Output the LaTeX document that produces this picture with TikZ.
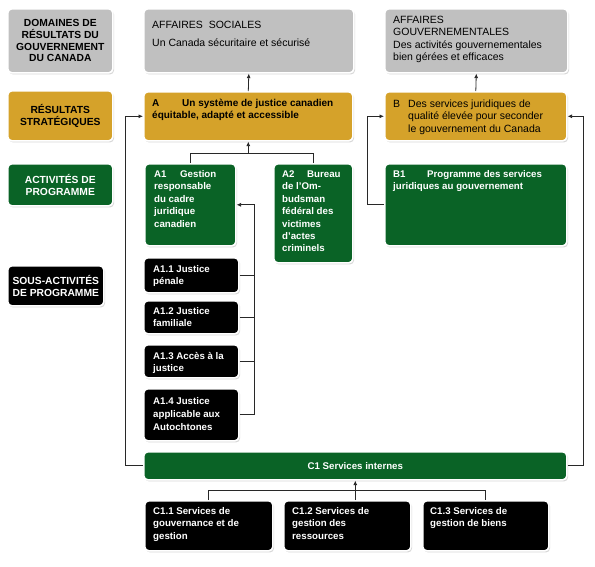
\documentclass[tikz,border=0pt]{standalone}
\usepackage{fontspec}
\setmainfont{Liberation Sans}
\usetikzlibrary{shadows,arrows.meta,calc}
\definecolor{boxgray}{RGB}{192,192,192}
\definecolor{boxgold}{RGB}{213,162,42}
\definecolor{boxgreen}{RGB}{10,99,38}
\definecolor{linegray}{RGB}{40,40,40}
\newcommand\mytl[1]{\begin{tabular}[t]{@{}l@{}}#1\end{tabular}}
\begin{document}
\begin{tikzpicture}[x=1pt,y=-1pt,
  box/.style={rounded corners=4pt, draw=white, line width=1.6pt,
    drop shadow={shadow xshift=1.2pt,shadow yshift=-1.6pt,fill=black!30},
    anchor=north west, inner sep=0pt, align=center},
  lbl/.style={font=\bfseries\fontsize{10.3}{11.7}\selectfont},
  gtxt/.style={font=\fontsize{10.5}{12.2}\selectfont, anchor=base west, inner sep=0pt},
  btxt/.style={font=\bfseries\fontsize{10}{12.2}\selectfont, anchor=base west, inner sep=0pt},
  wtxt/.style={font=\bfseries\fontsize{9.7}{12.4}\selectfont, text=white, anchor=base west, inner sep=0pt},
  conn/.style={draw=linegray, line width=0.8pt},
  arr/.style={conn, -{Latex[length=4.5pt,width=4pt]}}
]
\path[fill=white] (0,0) rectangle (595,566);
\useasboundingbox (0,0) rectangle (595,566);

% left column
\node[box, fill=boxgray, minimum width=105pt, minimum height=64pt, lbl] (dom) at (7,8)
  {DOMAINES DE\\RÉSULTATS DU\\GOUVERNEMENT\\DU CANADA};
\node[box, fill=boxgold, minimum width=105pt, minimum height=50pt, lbl] (res) at (7,90)
  {RÉSULTATS\\STRATÉGIQUES};
\node[box, fill=boxgreen, minimum width=105pt, minimum height=42pt, lbl, text=white] (act) at (7,163)
  {ACTIVITÉS DE\\PROGRAMME};
\node[box, fill=black, minimum width=96pt, minimum height=40pt, lbl, text=white] (sous) at (7,265)
  {SOUS-ACTIVITÉS\\DE PROGRAMME};

% top row
\node[box, fill=boxgray, minimum width=210pt, minimum height=64pt] (soc) at (143,8) {};
\node[gtxt] (socT) at (152,28.5) {\mytl{AFFAIRES\ \ SOCIALES\\[5.5pt]Un Canada sécuritaire et sécurisé}};
\node[box, fill=boxgray, minimum width=183pt, minimum height=64pt] (gouv) at (384,8) {};
\node[gtxt] (gouvT) at (393,23.6) {\mytl{AFFAIRES\\GOUVERNEMENTALES\\Des activités gouvernementales\\bien gérées et efficaces}};

% strategic outcomes
\node[box, fill=boxgold, minimum width=209pt, minimum height=49pt] (A) at (143,91) {};
\node[btxt] (AT) at (152,106.6) {\mytl{\makebox[30pt][l]{A}Un système de justice canadien\\équitable, adapté et accessible}};
\node[box, fill=boxgold, minimum width=182pt, minimum height=49pt] (B) at (384,91) {};
\node[gtxt] (BL) at (393,107.6) {B};
\node[gtxt] (BT) at (408,107.6) {\mytl{Des services juridiques de\\qualité élevée pour seconder\\le gouvernement du Canada}};

% program activities
\node[box, fill=boxgreen, minimum width=91pt, minimum height=82pt] (A1) at (144,163) {};
\node[wtxt] (A1T) at (154,177.5) {\mytl{\makebox[26pt][l]{A1}Gestion\\responsable\\du cadre\\juridique\\canadien}};
\node[box, fill=boxgreen, minimum width=79pt, minimum height=99pt] (A2) at (273,163) {};
\node[wtxt] (A2T) at (282,177.5) {\mytl{\makebox[25pt][l]{A2}Bureau\\de l'Om-\\budsman\\fédéral des\\victimes\\d'actes\\criminels}};
\node[box, fill=boxgreen, minimum width=182pt, minimum height=82pt] (B1) at (384,163) {};
\node[wtxt] (B1T) at (393,177.5) {\mytl{\makebox[34pt][l]{B1}Programme des services\\juridiques au gouvernement}};

% sub-activities
\node[box, fill=black, minimum width=95pt, minimum height=35pt] (A11) at (143,257) {};
\node[wtxt] (A11T) at (153,272.5) {\mytl{A1.1 Justice\\pénale}};
\node[box, fill=black, minimum width=95pt, minimum height=33pt] (A12) at (143,300) {};
\node[wtxt] (A12T) at (153,314.5) {\mytl{A1.2 Justice\\familiale}};
\node[box, fill=black, minimum width=95pt, minimum height=33pt] (A13) at (143,344) {};
\node[wtxt] (A13T) at (153,359.5) {\mytl{A1.3 Accès à la\\justice}};
\node[box, fill=black, minimum width=95pt, minimum height=52pt] (A14) at (143,388) {};
\node[wtxt, font=\bfseries\fontsize{9.7}{13}\selectfont] (A14T) at (153,404.5) {\mytl{A1.4 Justice\\applicable aux\\Autochtones}};

% internal services
\node[box, fill=boxgreen, minimum width=423pt, minimum height=28pt, text=white,
  font=\bfseries\fontsize{9.7}{12}\selectfont] (C1) at (143,451) {C1 Services internes};
\node[box, fill=black, minimum width=128pt, minimum height=50pt] (C11) at (144,500) {};
\node[wtxt] (C11T) at (153,514.5) {\mytl{C1.1 Services de\\gouvernance et de\\gestion}};
\node[box, fill=black, minimum width=127pt, minimum height=50pt] (C12) at (283,500) {};
\node[wtxt] (C12T) at (292,514.5) {\mytl{C1.2 Services de\\gestion des\\ressources}};
\node[box, fill=black, minimum width=126pt, minimum height=50pt] (C13) at (422,500) {};
\node[wtxt] (C13T) at (430,514.5) {\mytl{C1.3 Services de\\gestion de biens}};

% connectors
\draw[arr] (A.north) -- (soc.south);
\draw[arr] (B.north) -- (gouv.south);

\coordinate (jA) at ($(A.south)+(0,12)$);
\draw[conn] (A1.north) |- (jA) -| (A2.north);
\draw[arr] (jA) -- (A.south);

\coordinate (vA) at (254,0);
\draw[arr] (A14.east) -| (vA |- A1.east) -- (A1.east);
\draw[conn] (A11.east) -- (A11.east -| vA);
\draw[conn] (A12.east) -- (A12.east -| vA);
\draw[conn] (A13.east) -- (A13.east -| vA);

\coordinate (lA) at (125,0);
\draw[arr] (C1.west) -| (lA |- A.west) -- (A.west);
\coordinate (rB) at (583,0);
\draw[arr] (C1.east) -| (rB |- B.east) -- (B.east);
\coordinate (lB) at (367,0);
\draw[arr] (B1.west) -| (lB |- B.west) -- (B.west);

\coordinate (jC) at ($(C1.south)+(0,10)$);
\draw[conn] (C11.north) |- (jC) -| (C13.north);
\draw[arr] (C12.north -| C1.south) -- (C1.south);
\end{tikzpicture}
\end{document}
